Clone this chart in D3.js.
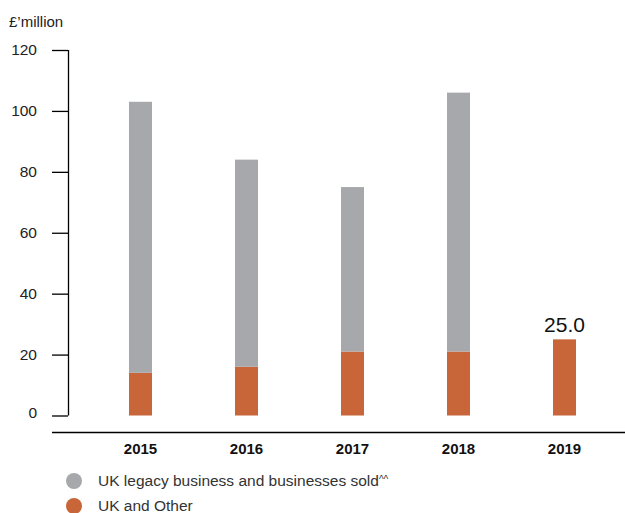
<!DOCTYPE html>
<html>
<head>
<meta charset="utf-8">
<script src="https://cdn.jsdelivr.net/npm/d3@7"></script>
<style>
  html, body { margin: 0; padding: 0; background: #fff; }
  svg { display: block; font-family: "Liberation Sans", Arial, Helvetica, sans-serif; }
</style>
</head>
<body>
<svg id="chart" width="625" height="513"></svg>
<script>
// Yearly figures, £ million
const years = ["2015", "2016", "2017", "2018", "2019"];
const ukOther = [14, 16, 21, 21, 25.0];
const ukLegacy = [89, 68, 54, 85, 0];
const yTicks = [0, 20, 40, 60, 80, 100, 120];
const seriesNames = ["UK legacy business and businesses sold", "UK and Other"];
const seriesMarks = ["^^", ""];
const seriesColors = ["#a7a8ab", "#c8663a"];
const labelledIndex = 4;

const svg = d3.select("#chart");

const x = d3.scaleBand()
  .domain(years)
  .range([87.5, 617.5])
  .paddingInner(0.783)
  .paddingOuter(0.3915);

const y = d3.scaleLinear().domain([0, 120]).range([415.5, 50]);

// Stack the two series: UK and Other at the base, legacy on top
const rows = years.map((yr, i) => ({ year: yr, other: ukOther[i], legacy: ukLegacy[i] }));
const stacked = d3.stack().keys(["other", "legacy"])(rows);
const keyColor = { other: seriesColors[1], legacy: seriesColors[0] };

// Y axis
const yAxis = d3.axisLeft(y).tickValues(yTicks).tickSize(16).tickPadding(15).tickSizeOuter(0);
const gy = svg.append("g").attr("transform", "translate(68,0)").call(yAxis);
gy.select(".domain").attr("stroke", "#000").attr("stroke-width", 1.3)
  .attr("d", `M0.5,${y(120)}V${y(0)}`);
gy.selectAll(".tick line").attr("stroke", "#000").attr("stroke-width", 1.3);
gy.selectAll(".tick text")
  .attr("font-size", 15.5).attr("fill", "#222")
  .attr("font-family", "Liberation Sans, Arial, sans-serif")
  .attr("dy", d => d === 0 ? "0.15em" : "0.3em");

svg.append("text")
  .attr("x", 9).attr("y", 27)
  .attr("font-size", 15).attr("fill", "#222")
  .text("£’million");

// Bars
svg.append("g").selectAll("g")
  .data(stacked)
  .join("g")
  .attr("fill", d => keyColor[d.key])
  .selectAll("rect")
  .data(d => d.filter(s => s[1] - s[0] > 0))
  .join("rect")
  .attr("x", d => x(d.data.year))
  .attr("width", x.bandwidth())
  .attr("y", d => y(d[1]))
  .attr("height", d => y(d[0]) - y(d[1]));

// Value label on the latest year
svg.append("text")
  .attr("x", x(years[labelledIndex]) + x.bandwidth() / 2)
  .attr("y", y(ukOther[labelledIndex] + ukLegacy[labelledIndex]) - 7)
  .attr("text-anchor", "middle")
  .attr("font-size", 21).attr("fill", "#111")
  .text(d3.format(".1f")(ukOther[labelledIndex] + ukLegacy[labelledIndex]));

// X axis: baseline rule and bold year labels
const xAxis = d3.axisBottom(x).tickSize(0).tickPadding(11);
const gx = svg.append("g").attr("transform", "translate(0,432.5)").call(xAxis);
gx.select(".domain").attr("d", "M52,0H625").attr("stroke", "#000").attr("stroke-width", 1.6);
gx.selectAll(".tick text")
  .attr("font-size", 15).attr("font-weight", "bold").attr("fill", "#111")
  .attr("font-family", "Liberation Sans, Arial, sans-serif");

// Legend
const legend = svg.append("g").selectAll("g")
  .data(seriesNames)
  .join("g")
  .attr("transform", (d, i) => `translate(0,${481 + i * 25})`);
legend.append("circle").attr("cx", 74).attr("cy", 0).attr("r", 8)
  .attr("fill", (d, i) => seriesColors[i]);
const lt = legend.append("text").attr("x", 98).attr("y", 0).attr("dy", "0.35em")
  .attr("font-size", 15.5).attr("fill", "#333");
lt.append("tspan").text(d => d);
lt.append("tspan").attr("font-size", 10).attr("dy", "-0.35em")
  .text((d, i) => seriesMarks[i]);
</script>
</body>
</html>
